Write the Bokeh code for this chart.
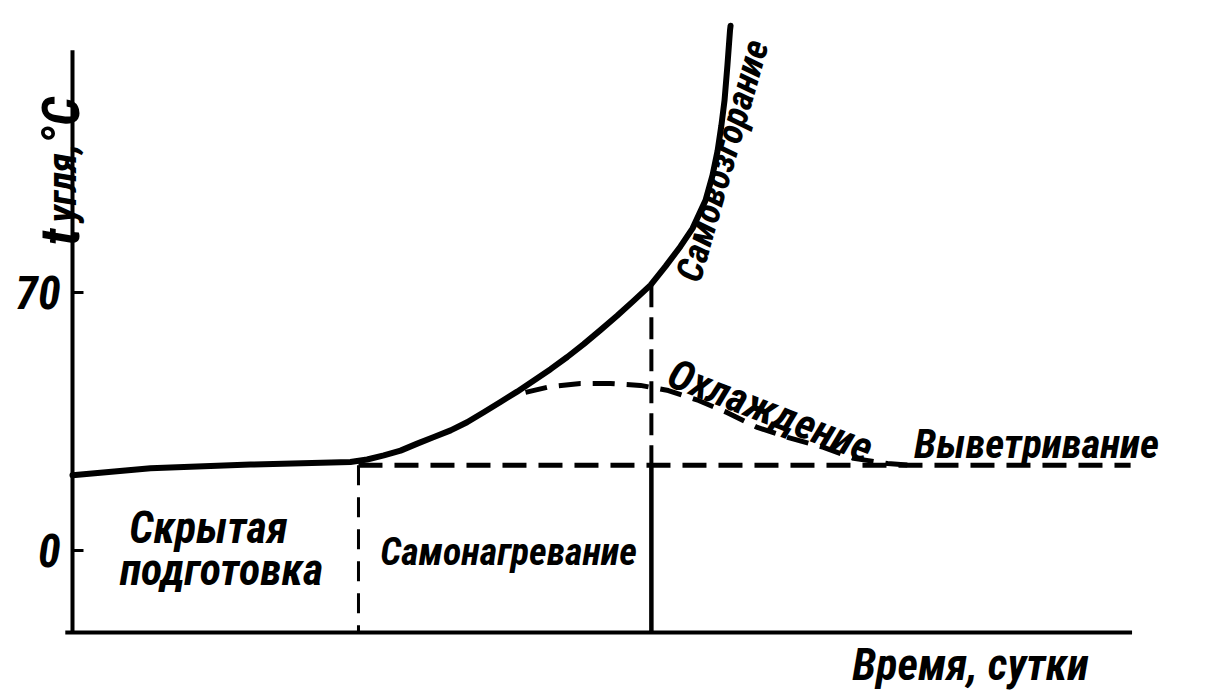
import numpy as np
from bokeh.plotting import figure
from bokeh.models import Range1d, FixedTicker
from bokeh.core.properties import value
from bokeh.embed import file_html
from bokeh.resources import INLINE

# ---- data (time in days, coal temperature in deg C) ----
heat_t = [0.0, 2.71, 6.18, 9.65, 10.23, 10.81, 11.39, 11.97, 12.55, 13.13, 13.70, 14.28,
          14.86, 15.44, 16.02, 16.60, 17.18, 17.75, 18.33, 18.91, 19.49, 20.07,
          20.59, 21.11, 21.53, 21.98, 22.22, 22.40, 22.53, 22.64, 22.74, 22.83, 22.85]
heat_T = [20.4, 22.3, 23.3, 24.0, 24.7, 25.8, 27.1, 29.0, 30.8, 32.6, 34.8, 37.5,
          40.3, 43.1, 46.1, 49.2, 52.5, 56.0, 59.8, 63.7, 67.8, 72.0,
          77.1, 82.5, 87.4, 95.0, 101.7, 108.5, 115.3, 122.1, 131.6, 141.1, 142.4]

cool_t = [15.73, 16.60, 17.64, 18.68, 19.72, 20.69, 21.74, 22.74, 23.78, 24.83, 26.08, 27.12, 28.30, 29.10]
cool_T = [42.9, 44.5, 45.3, 45.3, 44.8, 43.4, 40.7, 37.4, 33.4, 30.7, 28.0, 25.0, 23.6, 23.1]

base_t = [9.93, 36.74]
base_T = [23.1, 23.1]

phase1_end = 9.93
phase2_end = 20.1
t_max = 36.74
T_min = -22.25
T_top_axis = 135.7

y_ticks = [0, 70]

phase_texts = ["Скрытая", "подготовка", "Самонагревание"]
curve_texts = ["Самовозгорание", "Охлаждение", "Выветривание"]
x_title = "Время, сутки"
y_title_parts = ["t", "угля,", "°C"]

FONT = "Roboto Condensed"

p = figure(width=1224, height=692, output_backend="svg", toolbar_location=None,
           x_range=Range1d(-2.5, 40.0), y_range=Range1d(-38.53, 149.23),
           min_border_left=0, min_border_right=0, min_border_top=0, min_border_bottom=0)
p.xaxis.visible = False
p.grid.visible = False
p.outline_line_color = None
p.background_fill_color = "white"
p.border_fill_color = "white"

yax = p.yaxis[0]
yax.fixed_location = 0
yax.ticker = FixedTicker(ticks=y_ticks)
yax.axis_line_color = None
yax.major_tick_in = 11
yax.major_tick_out = 0
yax.minor_tick_line_color = None
yax.major_tick_line_width = 3
yax.major_tick_line_color = "black"
yax.major_label_text_font = FONT
yax.major_label_text_font_style = "bold italic"
yax.major_label_text_font_size = "46px"
yax.major_label_text_color = "black"
yax.major_label_standoff = 12

# axes lines
p.segment(x0=[0.0], y0=[T_min], x1=[0.0], y1=[T_top_axis], line_width=4, line_color="black")
p.segment(x0=[-0.25], y0=[T_min], x1=[t_max + 0.05], y1=[T_min], line_width=4, line_color="black")

# phase boundaries
p.segment(x0=[phase1_end], y0=[base_T[0]], x1=[phase1_end], y1=[T_min],
          line_width=3, line_color="black", line_dash="20 12")
p.segment(x0=[phase2_end], y0=[72.0], x1=[phase2_end], y1=[base_T[0]],
          line_width=4, line_color="black", line_dash="22 10")
p.segment(x0=[phase2_end], y0=[base_T[0]], x1=[phase2_end], y1=[T_min],
          line_width=4.5, line_color="black")

# curves
p.line(base_t, base_T, line_width=5, line_color="black", line_dash="24 12")
p.line(cool_t, cool_T, line_width=5, line_color="black", line_dash="22 12")
p.line(heat_t, heat_T, line_width=6, line_color="black", line_cap="round", line_join="round")

def lab(text, x, y, size, angle=0.0, align="center", baseline="middle"):
    p.text(x=[x], y=[y], text=[text], angle=angle, text_align=align,
           text_baseline=baseline, text_font=value(FONT), text_font_style="bold italic",
           text_font_size=f"{size}px", text_color="black")

lab(phase_texts[0], 4.72, 6.2, 44)
lab(phase_texts[1], 5.17, -5.4, 44)
lab(phase_texts[2], 15.14, -0.3, 38)
lab(curve_texts[0], 22.57, 105.8, 37, angle=1.29)
lab(curve_texts[1], 24.24, 38.0, 42, angle=-0.37)
lab(curve_texts[2], 33.47, 29.0, 41)
lab(x_title, 31.18, -31.2, 44)
lab(y_title_parts[0], -0.45, 82.75, 56, angle=np.pi / 2, align="left", baseline="alphabetic")
lab(y_title_parts[1], -0.35, 89.0, 40, angle=np.pi / 2, align="left", baseline="alphabetic")
lab(y_title_parts[2], -0.38, 109.9, 52, angle=np.pi / 2, align="left", baseline="alphabetic")

open("out.html", "w").write(file_html(p, INLINE))
